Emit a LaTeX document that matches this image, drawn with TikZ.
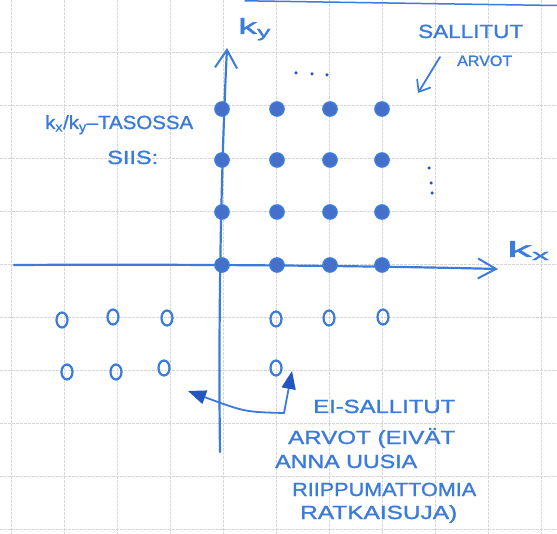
\documentclass[tikz,border=0pt]{standalone}
\usepackage{fontspec}
\setmainfont{Liberation Sans}
\newfontfamily\hand{Liberation Sans}[FakeBold=1.2]
\usetikzlibrary{arrows.meta,shapes.geometric}
\definecolor{ink}{HTML}{3A7BDB}
\definecolor{inkdark}{HTML}{2456C0}
\definecolor{gridc}{HTML}{D6D6D6}
\newcommand{\fitw}[2]{\resizebox{#1}{\height}{#2}}
\begin{document}
\begin{tikzpicture}[x=1pt,y=-1pt,
  gridline/.style={draw=gridc, line width=0.7pt, dash pattern=on 3pt off 1pt},
  ink/.style={draw=ink, line width=1.8pt, line cap=round, line join=round},
  axis/.style={draw=ink, line width=2.2pt, line cap=round, line join=round},
  lattice/.style={circle, draw=ink, fill=inkdark!85, line width=1.6pt, minimum size=14pt, inner sep=0pt},
  empty/.style={ellipse, draw=ink, line width=2.2pt, minimum width=11pt, minimum height=15pt, inner sep=0pt},
  label/.style={text=ink, inner sep=0pt, anchor=base west, font=\hand\fontsize{19}{20}\selectfont},
  speck/.style={circle, fill=inkdark, inner sep=0pt, minimum size=3.5pt},
  bighead/.style={-{Triangle[length=18pt, width=14pt, color=inkdark]}}
]
\useasboundingbox (0,0) rectangle (557,534);
\fill[white] (0,0) rectangle (557,534);
% grid paper
\foreach \gx in {11,64,117,170,223,276,329,382,435,488,541}
  \draw[gridline] (\gx,0) -- (\gx,534);
\foreach \gy in {52,105,158,211,264,317,370,423,476,529}
  \draw[gridline] (0,\gy) -- (557,\gy);
% page edge line at top
\draw[ink, line width=1.5pt] (245,0.8) .. controls (420,3.5) .. (557,5.5);
% axes
\coordinate (xs) at (14,265);
\coordinate (xe) at (498,269);
\coordinate (ys) at (220,452);
\coordinate (ye) at (227,48);
\draw[axis, -{Straight Barb[length=18pt, width=20pt, line width=2pt]}] (xs) .. controls (200,264) and (380,266) .. (xe);
\draw[axis, -{Straight Barb[length=18pt, width=22pt, line width=2pt]}] (ys) .. controls (218,300) and (222,150) .. (ye);
% axis labels
\node[label, font=\hand\fontsize{22}{22}\selectfont] (ky) at (238,34) {\fitw{33pt}{k\textsubscript{y}}};
\node[label, font=\hand\fontsize{22}{22}\selectfont] (kx) at (507,257) {\fitw{43pt}{k\textsubscript{x}}};
% allowed lattice points
\foreach \i/\px in {0/222,1/277,2/330,3/382}
  \foreach \j/\py in {0/265,1/212,2/160,3/109}
    \node[lattice] (d\i\j) at (\px,\py) {};
% ellipses
\node[speck] (e1) at (296,73) {};
\node[speck] (e2) at (312,74) {};
\node[speck] (e3) at (327,75) {};
\node[speck] (v1) at (429,168) {};
\node[speck] (v2) at (431,183) {};
\node[speck] (v3) at (432,193) {};
% disallowed points
\node[empty] (o1) at (62,320) {};
\node[empty] (o2) at (113,317) {};
\node[empty] (o3) at (167,318) {};
\node[empty] (o4) at (67,372) {};
\node[empty] (o5) at (116,372) {};
\node[empty] (o6) at (164,368) {};
\node[empty] (o7) at (276,319) {};
\node[empty] (o8) at (329,318) {};
\node[empty] (o9) at (383,317) {};
\node[empty] (o10) at (276,368) {};
% labels
\node[label] (t1) at (45,129) {\fitw{148pt}{k\textsubscript{x}/k\textsubscript{y}–TASOSSA}};
\node[label] (t2) at (107,164) {\fitw{51pt}{SIIS:}};
\node[label] (s1) at (418,38) {\fitw{105pt}{SALLITUT}};
\node[label, font=\hand\fontsize{15}{16}\selectfont] (s2) at (457,66) {\fitw{55pt}{ARVOT}};
\node[label] (n1) at (313,413) {\fitw{142pt}{EI-SALLITUT}};
\node[label] (n2) at (288,444) {\fitw{167pt}{ARVOT (EIVÄT}};
\node[label] (n3) at (275,468) {\fitw{142pt}{ANNA UUSIA}};
\node[label] (n4) at (292,496) {\fitw{184pt}{RIIPPUMATTOMIA}};
\node[label] (n5) at (300,519) {\fitw{157pt}{RATKAISUJA)}};
% arrows
\coordinate (sa) at (440,57);
\coordinate (sb) at (418,93);
\draw[ink, -{Straight Barb[length=10pt, width=16pt, line width=1.7pt]}] (sa) -- (sb);
\coordinate (c) at (284,413);
\coordinate (ta) at (188,391);
\coordinate (tb) at (292,371);
\draw[ink, bighead] (c) .. controls (245,412) .. (ta);
\draw[ink, bighead] (c) -- (tb);
\end{tikzpicture}
\end{document}
